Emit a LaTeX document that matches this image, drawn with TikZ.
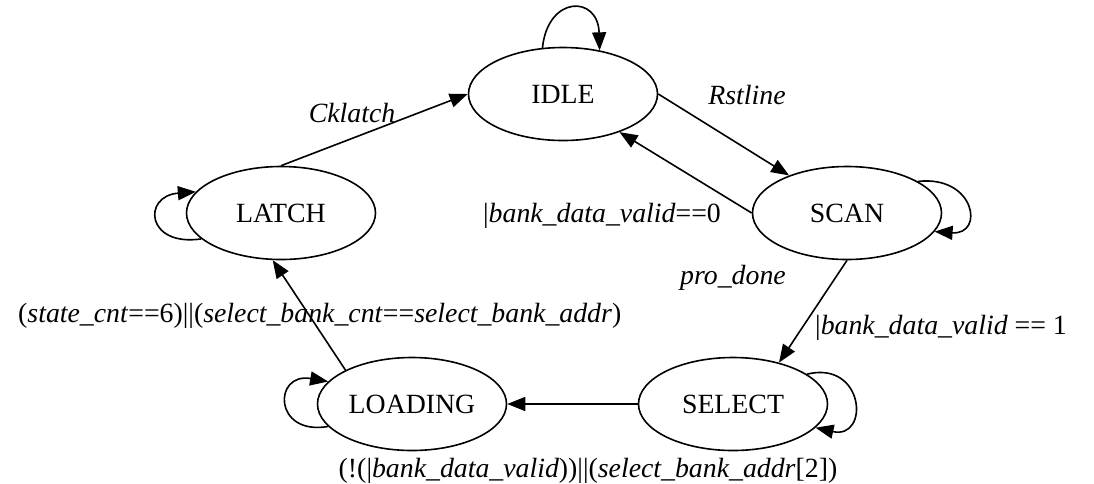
\documentclass[tikz,border=0pt]{standalone}
\usepackage{fontspec}
\setmainfont{Liberation Serif}
\usetikzlibrary{arrows.meta,shapes.geometric}
\begin{document}
\begin{tikzpicture}[x=1pt,y=-1pt,
  state/.style={draw,ellipse,line width=1.6pt,minimum width=189pt,minimum height=93pt,inner sep=0pt,font=\fontsize{27.8}{32}\selectfont,text height=19pt,text depth=0pt},
  lbl/.style={font=\fontsize{27.8}{32}\selectfont,inner sep=0pt,text height=19pt,text depth=0pt},
  conn/.style={line width=1.6pt,-{Triangle[length=18pt,width=14pt]}}]
\useasboundingbox (0,0) rectangle (1094,483);
\node[state] (idle) at (563,94) {IDLE};
\node[state] (latch) at (281,213) {LATCH};
\node[state] (scan) at (847,213) {SCAN};
\node[state] (loading) at (412,404) {LOADING};
\node[state] (select) at (733,404) {SELECT};
% self loops
\draw[conn] (idle.114) .. controls (548,-5) and (598,-5) .. (idle.50);
\draw[conn] (scan.24.5) .. controls (975,175) and (985,235) .. (scan.-12);
\draw[conn] (select.22) .. controls (865,360) and (870,440) .. (select.-16);
\draw[conn] (latch.198.9) .. controls (146,247) and (142,196) .. (latch.166.6);
\draw[conn] (loading.195) .. controls (273,436) and (273,372) .. (loading.165);
% transitions
\draw[conn] (latch.north) -- (idle.west);
\draw[conn] (idle.east) -- (scan.147);
\draw[conn] (scan.west) -- (idle.-34);
\draw[conn] (scan.south) -- (select.42);
\draw[conn] (select.west) -- (loading.east);
\draw[conn] (loading.153) -- (latch.-100);
% labels
\node[lbl] (l1) at (352,113) {\textit{Cklatch}};
\node[lbl] (l2) at (747,95) {\textit{Rstline}};
\node[lbl] (l3) at (602,213) {|\textit{bank\_data\_valid}==0};
\node[lbl] (l4) at (733,275) {\textit{pro\_done}};
\node[lbl,anchor=west] (l5) at (815,325) {|\textit{bank\_data\_valid} == 1};
\node[lbl,anchor=west] (l6) at (18,313) {(\textit{state\_cnt}==6)||(\textit{select\_bank\_cnt}==\textit{select\_bank\_addr})};
\node[lbl] (l7) at (588,468) {(!(|\textit{bank\_data\_valid}))||(\textit{select\_bank\_addr}[2])};
\end{tikzpicture}
\end{document}
